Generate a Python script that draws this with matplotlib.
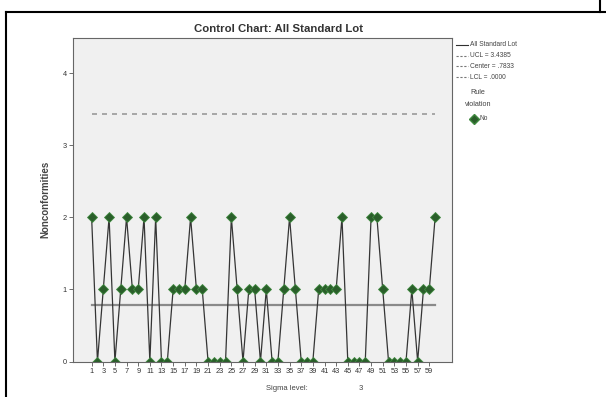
import numpy as np
import matplotlib
matplotlib.use("Agg")
import matplotlib.pyplot as plt
from matplotlib.lines import Line2D

plt.rcParams["font.family"] = ["Liberation Sans", "DejaVu Sans"]

# --- data
samples = np.arange(1, 61)
nonconf = [2, 0, 1, 2, 0, 1, 2, 1, 1, 2,
           0, 2, 0, 0, 1, 1, 1, 2, 1, 1,
           0, 0, 0, 0, 2, 1, 0, 1, 1, 0,
           1, 0, 0, 1, 2, 1, 0, 0, 0, 1,
           1, 1, 1, 2, 0, 0, 0, 0, 2, 2,
           1, 0, 0, 0, 0, 1, 0, 1, 1, 2]
ucl = 3.4385
center = 0.7833
lcl = 0.0
xticks = list(range(1, 60, 2))
yticks = [0, 1, 2, 3, 4]

W, H = 606, 397
fig = plt.figure(figsize=(W / 100, H / 100), dpi=100)

# plot area in pixel coords -> figure fractions
left, right, top, bottom = 73, 452, 38, 361.5
ax = fig.add_axes([left / W, 1 - bottom / H, (right - left) / W, (bottom - top) / H])
ax.set_facecolor("#f0f0f0")

ax.plot(samples, [ucl] * len(samples), color="#9a9a9a", lw=1.2, ls=(0, (3, 3)))
ax.plot(samples, [center] * len(samples), color="#8a8a8a", lw=1.6)
ax.plot(samples, nonconf, color="#353535", lw=0.9, marker="D", ms=4.8,
        mfc="#2a5e2a", mec="#3f8a3f", mew=0.6)

ax.set_xlim(-2.2, 62.9)
ax.set_ylim(0, 4.49)
ax.set_xticks(xticks)
ax.set_xticklabels([str(t) for t in xticks], fontsize=5.3)
ax.set_yticks(yticks)
ax.set_yticklabels([str(t) for t in yticks], fontsize=5.3)
ax.tick_params(length=3, width=0.6, color="#555555", pad=1.5, labelcolor="#333333")
for s in ax.spines.values():
    s.set_color("#666666")
    s.set_linewidth(0.8)

ax.set_ylabel("Nonconformities", fontsize=7, fontweight="bold", color="#444444", labelpad=9)

fig.text(279 / W, 1 - 29 / H, "Control Chart: All Standard Lot", ha="center", va="center",
         fontsize=8.2, fontweight="bold", color="#333333")
fig.text(287 / W, 1 - 389 / H, "Sigma level:", ha="center", va="center", fontsize=5.5, color="#444444")
fig.text(361 / W, 1 - 389 / H, "3", ha="center", va="center", fontsize=5.5, color="#444444")

# legend drawn by hand, SPSS style
leg_items = [("All Standard Lot", "-", "#303030"),
             ("UCL = 3.4385", (0, (2, 1.5)), "#777777"),
             ("Center = .7833", (0, (2, 1.5)), "#777777"),
             ("LCL = .0000", (0, (2, 1.5)), "#777777")]
for i, (txt, ls, col) in enumerate(leg_items):
    yy = 1 - (45 + i * 10.7) / H
    fig.add_artist(Line2D([456 / W, 468 / W], [yy, yy], color=col, lw=0.8, ls=ls))
    fig.text(470 / W, yy, txt, fontsize=4.8, va="center", color="#444444")
fig.text(478 / W, 1 - 93 / H, "Rule", fontsize=5.2, ha="center", va="center", color="#444444")
fig.text(478 / W, 1 - 104 / H, "violation", fontsize=5.2, ha="center", va="center", color="#444444")
fig.add_artist(Line2D([474 / W], [1 - 119 / H], marker="D", ms=5, mfc="#2a5e2a", mec="#3f8a3f", lw=0))
fig.text(480 / W, 1 - 119 / H, "No", fontsize=4.8, va="center", color="#444444")

# table cell border around the chart
fig.add_artist(Line2D([6 / W, 606 / W], [1 - 12 / H, 1 - 12 / H], color="black", lw=1.5))
fig.add_artist(Line2D([6 / W, 6 / W], [0, 1 - 12 / H], color="black", lw=1.5))
fig.add_artist(Line2D([600 / W, 600 / W], [1 - 12 / H, 1], color="black", lw=1.5))

fig.savefig("out.png", dpi=100)
